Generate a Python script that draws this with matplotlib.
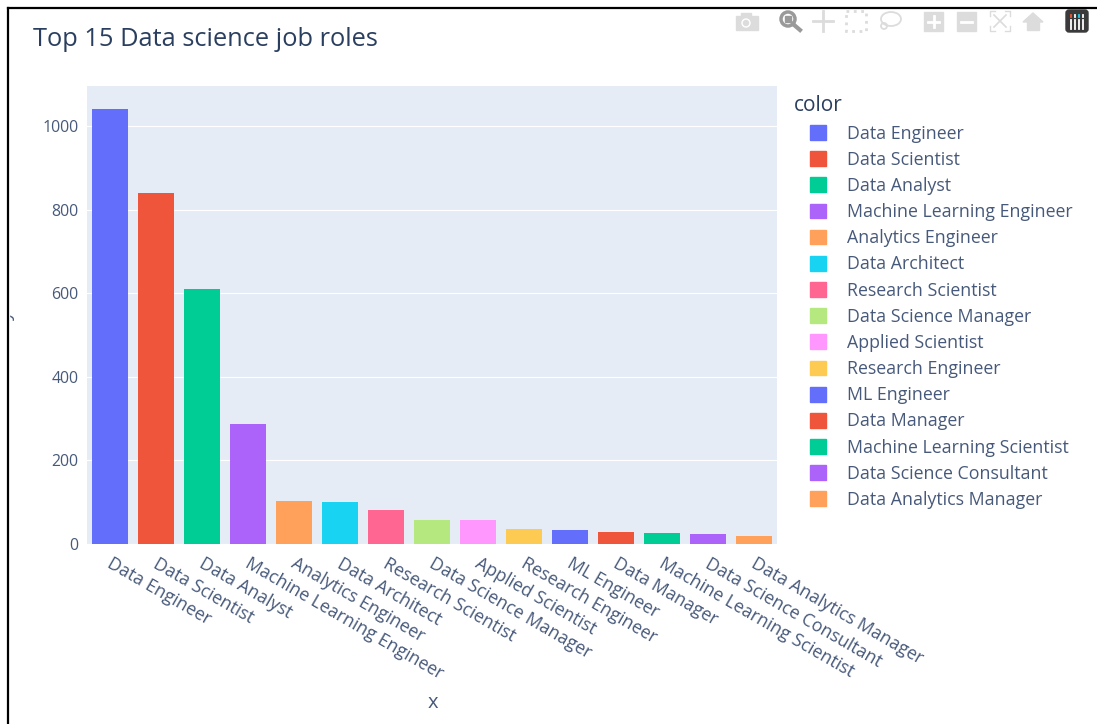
import matplotlib
matplotlib.use("Agg")
import matplotlib.pyplot as plt
from matplotlib.patches import Rectangle, Circle, Polygon, Ellipse, FancyBboxPatch
from matplotlib.transforms import ScaledTranslation

plt.rcParams['font.family'] = ['Open Sans', 'DejaVu Sans']

roles = ["Data Engineer", "Data Scientist", "Data Analyst", "Machine Learning Engineer",
         "Analytics Engineer", "Data Architect", "Research Scientist", "Data Science Manager",
         "Applied Scientist", "Research Engineer", "ML Engineer", "Data Manager",
         "Machine Learning Scientist", "Data Science Consultant", "Data Analytics Manager"]
counts = [1040, 840, 610, 287, 102, 100, 81, 57, 57, 35, 32, 27, 24, 22, 19]
palette = ["#636EFA", "#EF553B", "#00CC96", "#AB63FA", "#FFA15A", "#19D3F3", "#FF6692",
           "#B6E880", "#FF97FF", "#FECB52"]
yticks = [0, 200, 400, 600, 800, 1000]

W, H = 1097, 724
TEXT = "#2a3f5f"
LABEL = "#47597a"
GREY = "#dcdcdc"

fig = plt.figure(figsize=(W / 100, H / 100), dpi=100)
ax = fig.add_axes([87 / W, 1 - 543.5 / H, 690 / W, 457.5 / H])
ax.set_facecolor("#E5ECF6")

colors = [palette[i % len(palette)] for i in range(len(roles))]
bars = ax.bar(range(len(roles)), counts, width=0.8, color=colors)

ax.set_xlim(-0.5, len(roles) - 0.5)
ax.set_ylim(0, 1096)
ax.set_yticks(yticks)
ax.set_xticks(range(len(roles)))
ax.set_xticklabels(roles, rotation=-30, ha="left", va="top", rotation_mode="anchor")
ax.tick_params(axis="x", length=0, labelsize=12.8, labelcolor=LABEL, pad=8)
ax.tick_params(axis="y", length=0, labelsize=11.4, labelcolor=LABEL, pad=6)
shift = ScaledTranslation(3 / 100, 0, fig.dpi_scale_trans)
for lab in ax.get_xticklabels():
    lab.set_transform(lab.get_transform() + shift)
ax.grid(axis="y", color="white", linewidth=0.8)
ax.set_axisbelow(True)
for s in ax.spines.values():
    s.set_visible(False)

fig.text(433 / W, 1 - 703 / H, "x", fontsize=14.5, color=LABEL, ha="center", va="center")
fig.text(33 / W, 1 - 39 / H, "Top 15 Data science job roles", fontsize=18.3, color=TEXT,
         ha="left", va="center")

# legend squares + labels
handles = [Rectangle((0, 0), 1, 1, color=c) for c in colors]
leg = fig.legend(handles, roles, loc="upper left", bbox_to_anchor=(789 / W, 1 - 90 / H),
                 frameon=False, fontsize=12.8, labelcolor=LABEL, title="color",
                 title_fontsize=15, alignment="left", handlelength=0.9, handleheight=0.9,
                 handletextpad=2.08, labelspacing=0.46, borderpad=0.3, borderaxespad=0)
leg.get_title().set_color(TEXT)
for h in leg.legend_handles:
    h.set_x(h.get_x() + 11)

# overlay in pixel coords for window border and modebar
ov = fig.add_axes([0, 0, 1, 1], zorder=5)
ov.set_xlim(0, W)
ov.set_ylim(H, 0)
ov.axis("off")
ov.patch.set_alpha(0)

# axis title is cut off by the window edge, only its tail shows
ov.text(6, 316, "y", fontsize=14, color=LABEL, rotation=90, ha="center", va="center", zorder=3)
ov.add_patch(Rectangle((0, 290), 9, 50, color="white", zorder=4))
ov.plot([8, 8], [8, H], color="black", lw=1.6, zorder=5)
ov.plot([8, W], [8, 8], color="black", lw=1.6, zorder=5)

# camera
ov.add_patch(Rectangle((736, 16), 22, 14, color=GREY))
ov.add_patch(Rectangle((741, 13), 10, 4, color=GREY))
ov.add_patch(Circle((746, 23), 4, color="white"))
ov.add_patch(Circle((746, 23), 2.5, color=GREY))
# zoom (active)
ov.add_patch(Circle((788, 19), 7, fc="white", ec="#9a9a9a", lw=2.5))
ov.plot([793, 800], [24, 30], color="#9a9a9a", lw=3)
ov.add_patch(Rectangle((785, 16), 6, 6, color="#9a9a9a"))
# pan
ov.plot([813, 833], [21, 21], color=GREY, lw=2)
ov.plot([823, 823], [11, 31], color=GREY, lw=2)
# box select
ov.add_patch(Rectangle((846, 11), 20, 20, fill=False, ec=GREY, lw=2, ls=":"))
# lasso
ov.add_patch(Ellipse((891, 19), 20, 14, fill=False, ec=GREY, lw=1.3))
ov.add_patch(Circle((884, 26), 3, fill=False, ec=GREY, lw=1.3))
# plus / minus
ov.add_patch(Rectangle((924, 12), 19, 19, color=GREY))
ov.plot([928, 939], [21.5, 21.5], color="white", lw=2)
ov.plot([933.5, 933.5], [16, 27], color="white", lw=2)
ov.add_patch(Rectangle((957, 12), 19, 19, color=GREY))
ov.plot([961, 972], [21.5, 21.5], color="white", lw=2)
# autoscale
ov.plot([994, 1006], [15, 27], color=GREY, lw=1.2)
ov.plot([994, 1006], [27, 15], color=GREY, lw=1.2)
for cx, cy, dx, dy in [(990, 11, 1, 1), (1010, 11, -1, 1), (990, 31, 1, -1), (1010, 31, -1, -1)]:
    ov.plot([cx + 5 * dx, cx, cx], [cy, cy, cy + 5 * dy], color=GREY, lw=1)
# home
ov.add_patch(Polygon([[1023, 22], [1033, 13], [1043, 22]], color=GREY))
ov.add_patch(Rectangle((1027, 22), 12, 8, color=GREY))
# plotly logo
ov.add_patch(FancyBboxPatch((1068, 12), 18, 18, boxstyle="round,pad=2,rounding_size=3", color="#3a3a3a"))
for x, c in zip([1071, 1075, 1079, 1083], ["#ef553b", "#ffffff", "#19d3f3", "#ffffff"]):
    ov.plot([x, x], [15, 16.5], color=c, lw=1.3)
    ov.plot([x, x], [20, 29], color="white", lw=1.3)

fig.savefig("out.png", dpi=100)
